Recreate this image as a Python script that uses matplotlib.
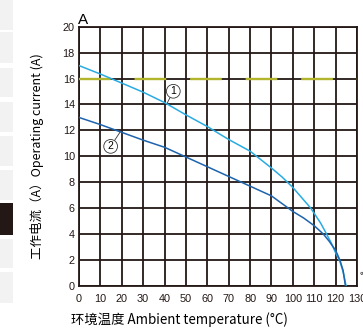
import matplotlib
matplotlib.use("Agg")
import matplotlib.pyplot as plt
from matplotlib.patches import Rectangle

plt.rcParams['font.family'] = ['Liberation Sans', 'Noto Sans CJK SC', 'DejaVu Sans']
plt.rcParams['lines.scale_dashes'] = False

# curve 1 (light blue) and curve 2 (dark blue): ambient temp vs current
temp_1 = [0, 10, 20, 30, 40, 50, 60, 70, 80, 90, 95, 100, 105, 108.4, 110, 113, 115.8, 118, 120, 122, 123.5, 124.9]
curr_1 = [17.0, 16.35, 15.65, 14.95, 14.15, 13.2, 12.3, 11.3, 10.4, 9.1, 8.4, 7.6, 6.65, 6.0, 5.6, 4.85, 4.0, 3.3, 2.56, 1.9, 1.1, 0.0]
temp_2 = [0, 10, 20, 30, 40, 50, 60, 70, 80, 90, 100, 105, 110, 114.3, 117, 120, 122, 123.5, 124.6]
curr_2 = [13.0, 12.45, 11.85, 11.25, 10.7, 9.95, 9.2, 8.45, 7.7, 6.95, 5.75, 5.25, 4.65, 4.0, 3.45, 2.75, 2.0, 1.2, 0.0]
rated_current = 16

x_ticks = list(range(0, 131, 10))
y_ticks = list(range(0, 21, 2))

GRID = "#231815"
LIGHT = "#29abe2"
DARK = "#1d63ad"
YELLOW = "#b3b52c"

W, H = 363, 329
fig = plt.figure(figsize=(W / 100, H / 100), dpi=100)
ax = fig.add_axes([79 / W, 1 - 286 / H, (357 - 79) / W, (286 - 26.7) / H])

# page artefacts on the left edge (side tabs)
tabs = [(0, 30), (32, 63), (68, 97), (102, 132), (136, 166), (170, 200),
        (203, 235), (239, 268), (272, 303)]
for i, (y0, y1) in enumerate(tabs):
    fc = "#231815" if i == 6 else "#f2f2f2"
    fig.patches.append(Rectangle((0, 1 - y1 / H), 13 / W, (y1 - y0) / H,
                                 transform=fig.transFigure, fc=fc, ec="none"))

ax.set_xlim(0, 130)
ax.set_ylim(0, 20)
ax.set_xticks(x_ticks)
ax.set_yticks(y_ticks)
ax.grid(True, color=GRID, lw=1.3)
ax.set_axisbelow(True)
for s in ax.spines.values():
    s.set_color(GRID)
    s.set_linewidth(1.3)
ax.tick_params(length=0, labelsize=7.8, colors="#231815")
ax.tick_params(axis="x", pad=6)
ax.tick_params(axis="y", pad=3)

ax.plot([0, 130], [rated_current, rated_current], color=YELLOW, lw=1.7,
        dashes=(22.8, 17.2), zorder=3)
ax.plot(temp_1, curr_1, color=LIGHT, lw=1.1, zorder=4)
ax.plot(temp_2, curr_2, color=DARK, lw=1.1, zorder=4)

circ = dict(boxstyle="circle,pad=0.18", fc="white", ec="#333333", lw=0.6)
ax.annotate("1", xy=(41.3, 14.13), xytext=(44.1, 15.02), ha="center", va="center",
            fontsize=7.5, bbox=circ, zorder=5,
            arrowprops=dict(arrowstyle="-", color="#333333", lw=0.6, shrinkA=0, shrinkB=0))
ax.annotate("2", xy=(19.2, 11.87), xytext=(14.8, 10.77), ha="center", va="center",
            fontsize=7.5, bbox=circ, zorder=5,
            arrowprops=dict(arrowstyle="-", color="#333333", lw=0.6, shrinkA=0, shrinkB=0))

fig.text(78 / W, 1 - 23.5 / H, "A", fontsize=11, ha="left", va="baseline")
fig.text(37 / W, 1 - 156 / H, "工作电流（A）Operating current (A)", rotation=90,
         fontsize=9, ha="center", va="center",
         family=["Noto Sans CJK SC", "DejaVu Sans"])
fig.text(179 / W, 1 - 320 / H, "环境温度 Ambient temperature (°C)",
         fontsize=9.6, ha="center", va="center",
         family=["Noto Sans CJK SC", "DejaVu Sans"])
fig.text(360 / W, 1 - 276 / H, "℃", fontsize=7, ha="left", va="center",
         family=["Noto Sans CJK SC", "DejaVu Sans"])

fig.savefig("out.png", dpi=100)
